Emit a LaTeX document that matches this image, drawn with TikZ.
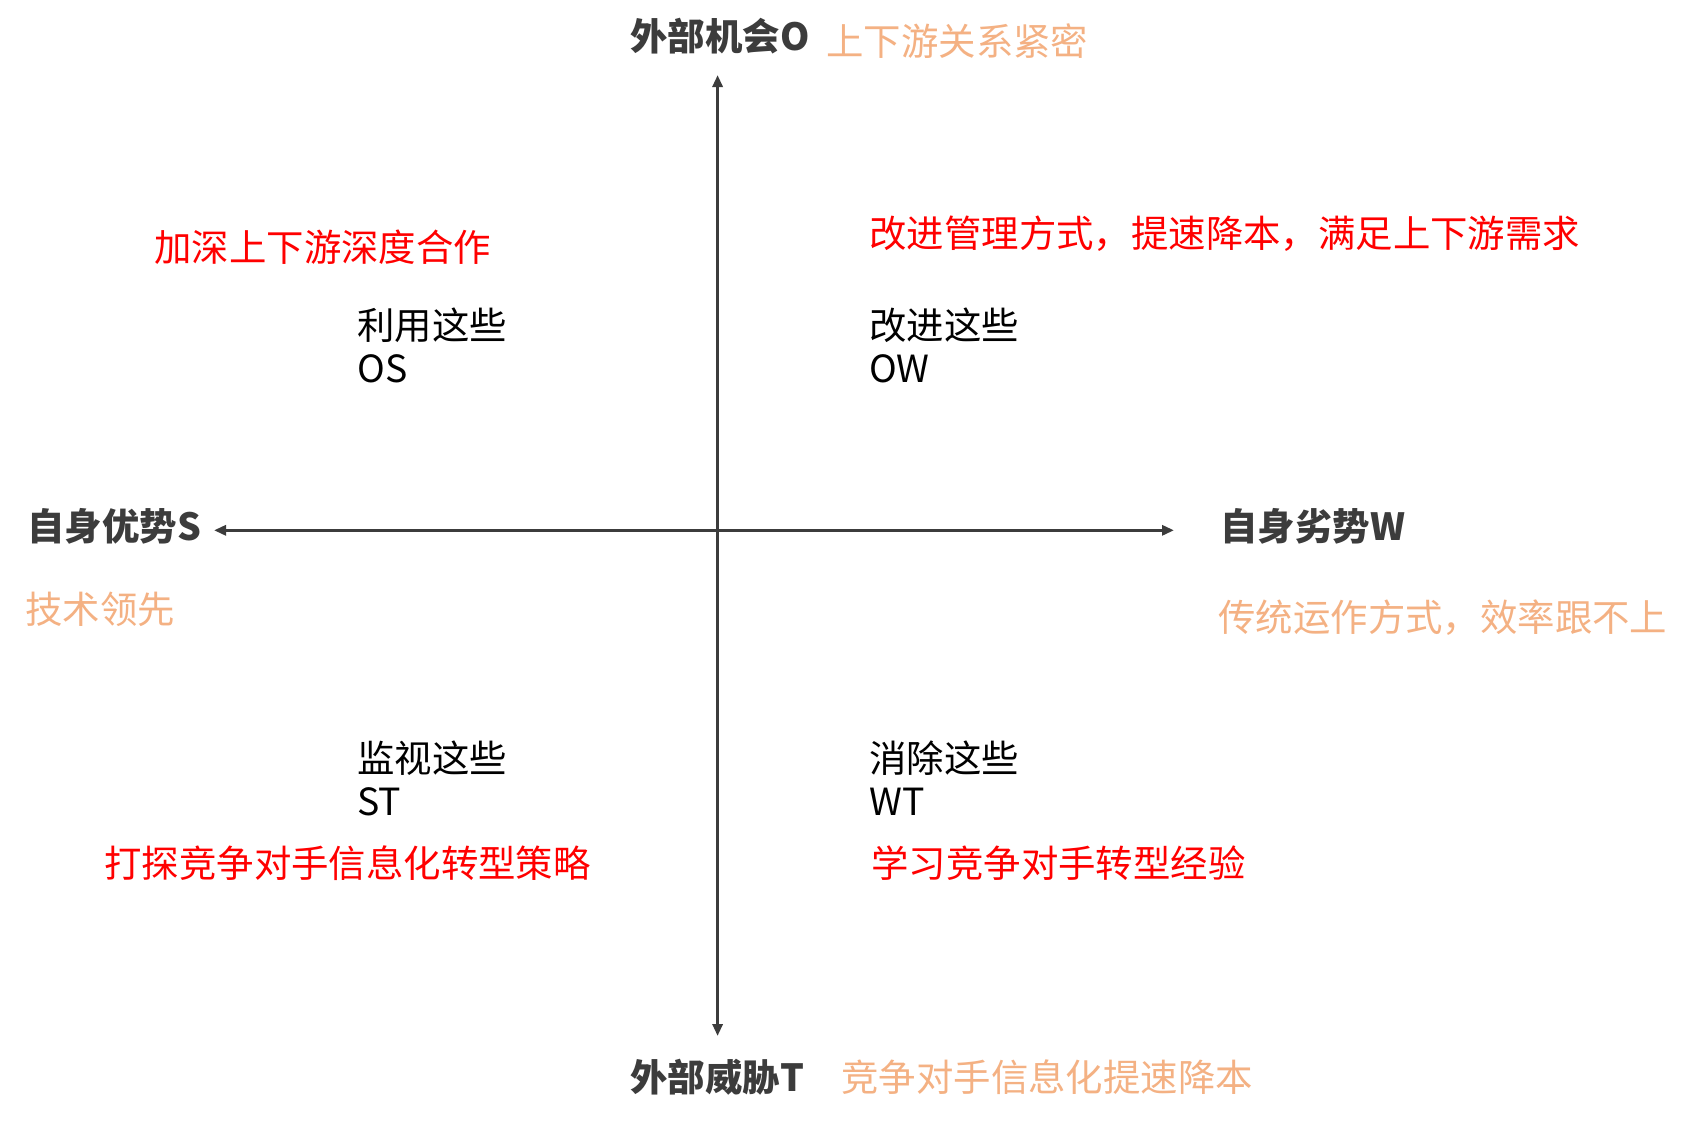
\documentclass[tikz,border=0pt]{standalone}
\usepackage{fontspec}
\setmainfont{Noto Sans CJK SC}
\usetikzlibrary{arrows.meta}
\definecolor{axisgray}{HTML}{3C3C3C}
\definecolor{softorange}{HTML}{F4B183}
\definecolor{strongred}{HTML}{FF0000}
\tikzset{
  txt/.style={anchor=base west, inner sep=0pt, font=\fontsize{18.7pt}{22pt}\selectfont},
  axislabel/.style={txt, text=axisgray, font=\fontsize{18.7pt}{22pt}\selectfont\bfseries},
  factor/.style={txt, text=softorange},
  strategy/.style={txt, text=strongred},
  quad/.style={txt, text=black},
  axisline/.style={draw=axisgray, line width=1.5pt, -{Triangle[length=6pt,width=5pt]}}
}
\begin{document}
\begin{tikzpicture}[x=0.5pt,y=-0.5pt]
\useasboundingbox[fill=white] (0,0) rectangle (1697,1121);
% axis endpoints
\coordinate (c) at (717.6,530.3);
\coordinate (top) at (717.6,75);
\coordinate (bot) at (717.6,1036);
\coordinate (left) at (214,530.3);
\coordinate (right) at (1174,530.3);
\draw[axisline] (c) -- (top);
\draw[axisline] (c) -- (bot);
\draw[axisline] (c) -- (left);
\draw[axisline] (c) -- (right);
% axis labels
\node[axislabel] (O) at (630,50) {外部机会O};
\node[factor] (Of) at (826,55) {上下游关系紧密};
\node[axislabel] (S) at (27,540) {自身优势S};
\node[factor] (Sf) at (25,623) {技术领先};
\node[axislabel] (W) at (1220,540) {自身劣势W};
\node[factor] (Wf) at (1218,631) {传统运作方式，效率跟不上};
\node[axislabel] (T) at (630,1091) {外部威胁T};
\node[factor] (Tf) at (841,1091) {竞争对手信息化提速降本};
% quadrants
\node[strategy] (OSs) at (154,261) {加深上下游深度合作};
\node[quad] (OS1) at (357,339) {利用这些};
\node[quad] (OS2) at (357,382) {OS};
\node[strategy] (OWs) at (869,247) {改进管理方式，提速降本，满足上下游需求};
\node[quad] (OW1) at (869,339) {改进这些};
\node[quad] (OW2) at (869,382) {OW};
\node[quad] (ST1) at (357,772) {监视这些};
\node[quad] (ST2) at (357,815) {ST};
\node[strategy] (STs) at (104,877) {打探竞争对手信息化转型策略};
\node[quad] (WT1) at (869,772) {消除这些};
\node[quad] (WT2) at (869,815) {WT};
\node[strategy] (WTs) at (871,877) {学习竞争对手转型经验};
\end{tikzpicture}
\end{document}
